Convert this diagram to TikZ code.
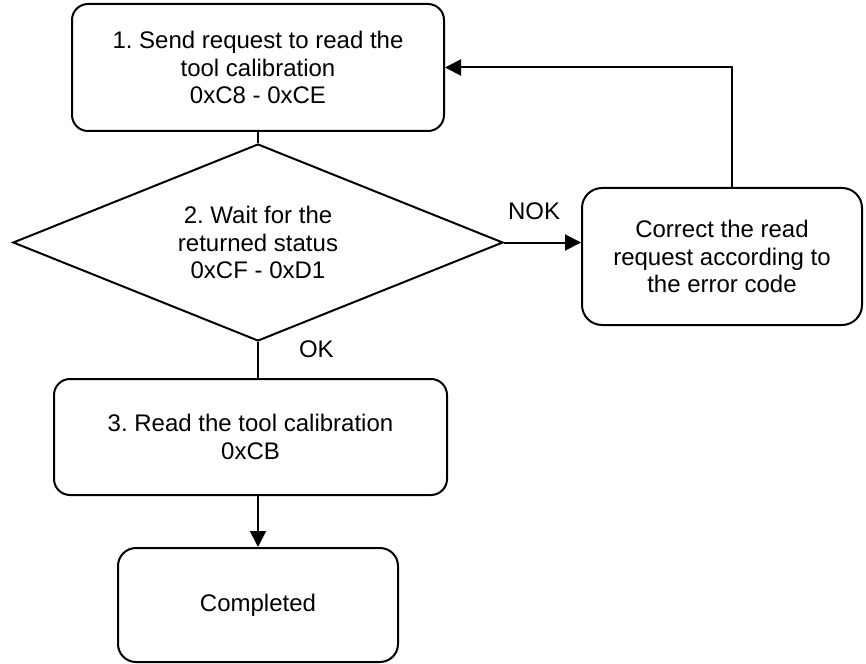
\documentclass[tikz,border=0pt]{standalone}
\usepackage{fontspec}
\setmainfont{Liberation Sans}
\usetikzlibrary{arrows.meta,shapes.geometric}
\frenchspacing

\begin{document}
\begin{tikzpicture}[x=0.5pt,y=-0.5pt,line width=1pt,
  font=\fontsize{12}{13.7}\selectfont,
  box/.style={draw,rounded corners=8pt,align=center,inner sep=0pt},
  cond/.style={draw,diamond,aspect=2.5,inner sep=0pt,align=center,
    minimum width=245pt,minimum height=98.5pt},
  arr/.style={-{Triangle[length=8pt,width=8pt]}},
  lbl/.style={inner sep=0pt}]
  \useasboundingbox (0,0) rectangle (866,663);
  \node[box,minimum width=186pt,minimum height=63.5pt] (send) at (258,67.5)
    {1. Send request to read the\\tool calibration\\0xC8 - 0xCE};
  \node[cond] (wait) at (258,242.5) {2. Wait for the\\returned status\\0xCF - 0xD1};
  \node[box,minimum width=140pt,minimum height=68.5pt,rounded corners=10pt] (fix) at (722,256.5)
    {Correct the read\\request according to\\the error code};
  \node[box,minimum width=196.5pt,minimum height=58pt] (read) at (250.5,437)
    {3. Read the tool calibration\\0xCB};
  \node[box,minimum width=140pt,minimum height=57pt,rounded corners=9pt] (done) at (258,605) {Completed};
  \draw (send.south) -- (wait.north);
  \draw (wait.south) -- node[lbl,pos=0.2,right=20pt] {OK} (wait.south |- read.north);
  \draw[arr] (read.south -| done.north) -- (done.north);
  \draw[arr] (wait.east) -- node[lbl,pos=0.39,above=11pt] {NOK} (wait.east -| fix.west);
  \draw[arr] ([xshift=5pt]fix.north) |- (send.east);
\end{tikzpicture}
\end{document}
